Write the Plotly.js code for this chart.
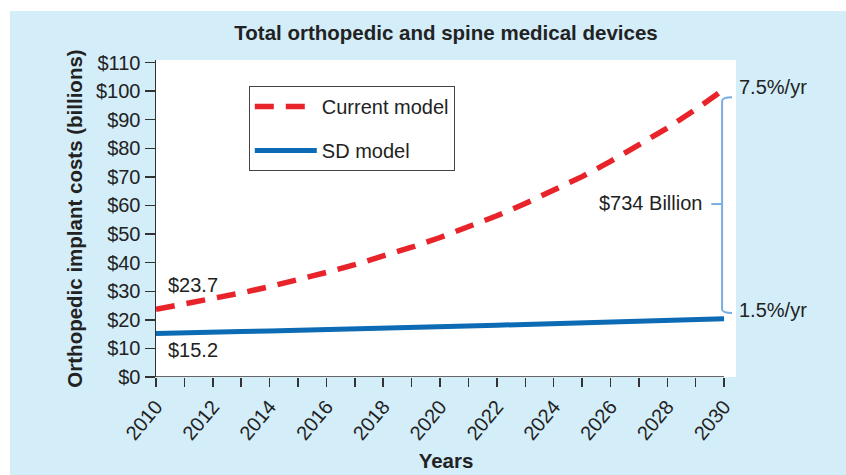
<!DOCTYPE html>
<html>
<head>
<meta charset="utf-8">
<script src="https://cdn.plot.ly/plotly-3.0.1.min.js"></script>
<style>
  html, body { margin: 0; padding: 0; background: #ffffff; width: 846px; height: 475px; overflow: hidden; }
  #chart { position: absolute; left: 10px; top: 11px; width: 836px; height: 464px; }
</style>
</head>
<body>
<div id="chart"></div>
<script>
// ---- data ----
const years = [2010, 2011, 2012, 2013, 2014, 2015, 2016, 2017, 2018, 2019, 2020,
               2021, 2022, 2023, 2024, 2025, 2026, 2027, 2028, 2029, 2030];
const currentModel = [23.7, 25.5, 27.4, 29.4, 31.6, 34.0, 36.6, 39.3, 42.3, 45.4, 48.8,
                      52.5, 56.4, 60.7, 65.2, 70.1, 75.4, 81.0, 87.1, 93.6, 100.7];
const sdModel = [15.2, 15.3, 15.6, 15.9, 16.1, 16.3, 16.6, 16.8, 17.1, 17.3, 17.6,
                 17.8, 18.1, 18.4, 18.7, 18.9, 19.2, 19.5, 19.8, 20.0, 20.4];
const seriesNames = ["Current model", "SD model"];
const yTickVals = [0, 10, 20, 30, 40, 50, 60, 70, 80, 90, 100, 110];
const yTickText = ["$0", "$10", "$20", "$30", "$40", "$50", "$60", "$70", "$80", "$90", "$100", "$110"];
const xTickVals = years;
const xTickText = ["2010", "", "2012", "", "2014", "", "2016", "", "2018", "", "2020",
                   "", "2022", "", "2024", "", "2026", "", "2028", "", "2030"];
const startLabels = ["$23.7", "$15.2"];
const rateLabels = ["7.5%/yr", "1.5%/yr"];
const gapLabel = "$734 Billion";

const FONT = "Liberation Sans, Arial, Helvetica, sans-serif";
const TXT = "#222222";
const BRACKET = "#7aaee0";

const traces = [
  {
    x: years, y: currentModel, name: seriesNames[0], type: "scatter", mode: "lines",
    legendgroup: "a",
    line: { color: "#e8232a", width: 5.5, dash: "19px,12px" }
  },
  {
    x: years, y: sdModel, name: seriesNames[1], type: "scatter", mode: "lines",
    legendgroup: "b",
    line: { color: "#0c6bb4", width: 5 }
  }
];

const layout = {
  width: 836, height: 464,
  margin: { l: 146, r: 110, t: 49, b: 98 },
  paper_bgcolor: "#d3edf9",
  plot_bgcolor: "#ffffff",
  font: { family: FONT, size: 20, color: TXT },
  title: {
    text: "<b>Total orthopedic and spine medical devices</b>",
    font: { family: FONT, size: 20.5, color: TXT },
    x: 0.5, xref: "paper", xanchor: "center",
    y: 0.952, yref: "container", yanchor: "middle"
  },
  xaxis: {
    range: [2010, 2030.42],
    tickmode: "array", tickvals: xTickVals, ticktext: xTickText,
    tickangle: -50,
    ticks: "outside", ticklen: 9, tickwidth: 1.5, tickcolor: "#333333",
    showline: false, showgrid: false, zeroline: false,
    tickfont: { family: FONT, size: 20, color: TXT },
    title: { text: "<b>Years</b>", font: { family: FONT, size: 20.5, color: TXT }, standoff: 10 }
  },
  yaxis: {
    range: [0, 110.9],
    tickmode: "array", tickvals: yTickVals, ticktext: yTickText,
    ticks: "outside", ticklen: 10, tickwidth: 1.5, tickcolor: "#333333",
    showline: true, linecolor: "#333333", linewidth: 1.5,
    showgrid: false, zeroline: false,
    tickfont: { family: FONT, size: 20, color: TXT },
    title: { text: "<b>Orthopedic implant costs (billions)</b>", font: { family: FONT, size: 20.5, color: TXT }, standoff: 8 }
  },
  showlegend: true,
  legend: {
    x: 0.160, y: 0.918, xanchor: "left", yanchor: "top",
    bgcolor: "#ffffff", bordercolor: "#444444", borderwidth: 1,
    font: { family: FONT, size: 20, color: TXT },
    itemwidth: 62,
    tracegroupgap: 15
  },
  shapes: [
    { type: "line", xref: "x", yref: "y", x0: 2009.95, x1: 2030, y0: 0, y1: 0,
      line: { color: "#333333", width: 1.5 } },
    { type: "path", xref: "x", yref: "y",
      path: "M 2030.28,97.9 Q 2029.93,97.9 2029.93,96.6 L 2029.93,23.7 Q 2029.93,22.4 2030.28,22.4",
      line: { color: BRACKET, width: 2 } },
    { type: "line", xref: "x", yref: "y", x0: 2029.55, x1: 2029.93, y0: 60.5, y1: 60.5,
      line: { color: BRACKET, width: 2 } }
  ],
  annotations: [
    { text: startLabels[0], x: 2010.35, y: 32.2, xref: "x", yref: "y", xanchor: "left", yanchor: "middle", showarrow: false },
    { text: startLabels[1], x: 2010.35, y: 9.4, xref: "x", yref: "y", xanchor: "left", yanchor: "middle", showarrow: false },
    { text: rateLabels[0], x: 1.002, y: 101.4, xref: "paper", yref: "y", xanchor: "left", yanchor: "middle", showarrow: false },
    { text: rateLabels[1], x: 1.002, y: 23.4, xref: "paper", yref: "y", xanchor: "left", yanchor: "middle", showarrow: false },
    { text: gapLabel, x: 2029.30, y: 60.8, xref: "x", yref: "y", xanchor: "right", yanchor: "middle", showarrow: false }
  ]
};

Plotly.newPlot("chart", traces, layout, { staticPlot: true, displayModeBar: false });
</script>
</body>
</html>
